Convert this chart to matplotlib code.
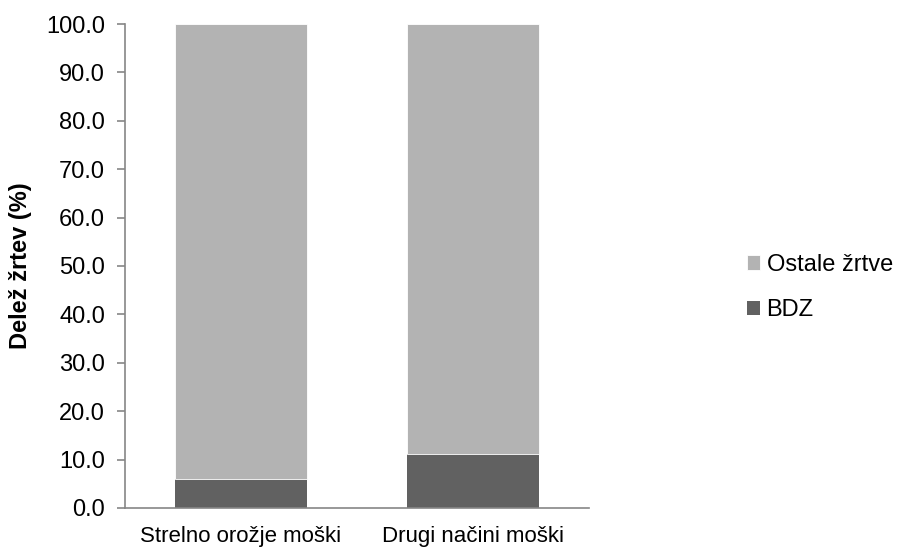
import matplotlib.pyplot as plt
import numpy as np

# Shares of victims by method, men only
categories = ["Strelno orožje moški", "Drugi načini moški"]
bdz = [6.0, 11.2]
ostale = [100 - v for v in bdz]

DARK = "#616161"
LIGHT = "#b3b3b3"
AXIS = "#868686"

plt.rcParams["font.family"] = ["Liberation Sans", "DejaVu Sans"]

fig = plt.figure(figsize=(9.1, 5.53), dpi=100)
ax = fig.add_axes([0.137, 0.0814, 0.51, 0.8752])

x = np.arange(len(categories))
w = 0.57
b1 = ax.bar(x, bdz, w, color=DARK, label="BDZ")
b2 = ax.bar(x, ostale, w, bottom=bdz, color=LIGHT, label="Ostale žrtve",
            edgecolor="white", linewidth=0.6)

ax.set_xlim(-0.5, 1.5)
ax.set_ylim(0, 100)
ax.set_yticks(np.arange(0, 101, 10))
ax.set_yticklabels([f"{v:.1f}" for v in np.arange(0, 101, 10)], fontsize=17)
ax.set_xticks(x)
ax.set_xticklabels(categories, fontsize=16)
ax.tick_params(axis="x", length=0, pad=13)
ax.tick_params(axis="y", length=6, width=1.2, color=AXIS, direction="out", pad=8)

for s in ["top", "right"]:
    ax.spines[s].set_visible(False)
for s in ["left", "bottom"]:
    ax.spines[s].set_color(AXIS)
    ax.spines[s].set_linewidth(1.2)

ax.set_ylabel("Delež žrtev (%)", fontsize=17, fontweight="bold", labelpad=10)

fig.legend([b2, b1], ["Ostale žrtve", "BDZ"], loc="center left",
           bbox_to_anchor=(0.797, 0.48), frameon=False, fontsize=17,
           handlelength=0.55, handleheight=0.55, handletextpad=0.3,
           labelspacing=1.0)

fig.savefig("out.png", dpi=100)
